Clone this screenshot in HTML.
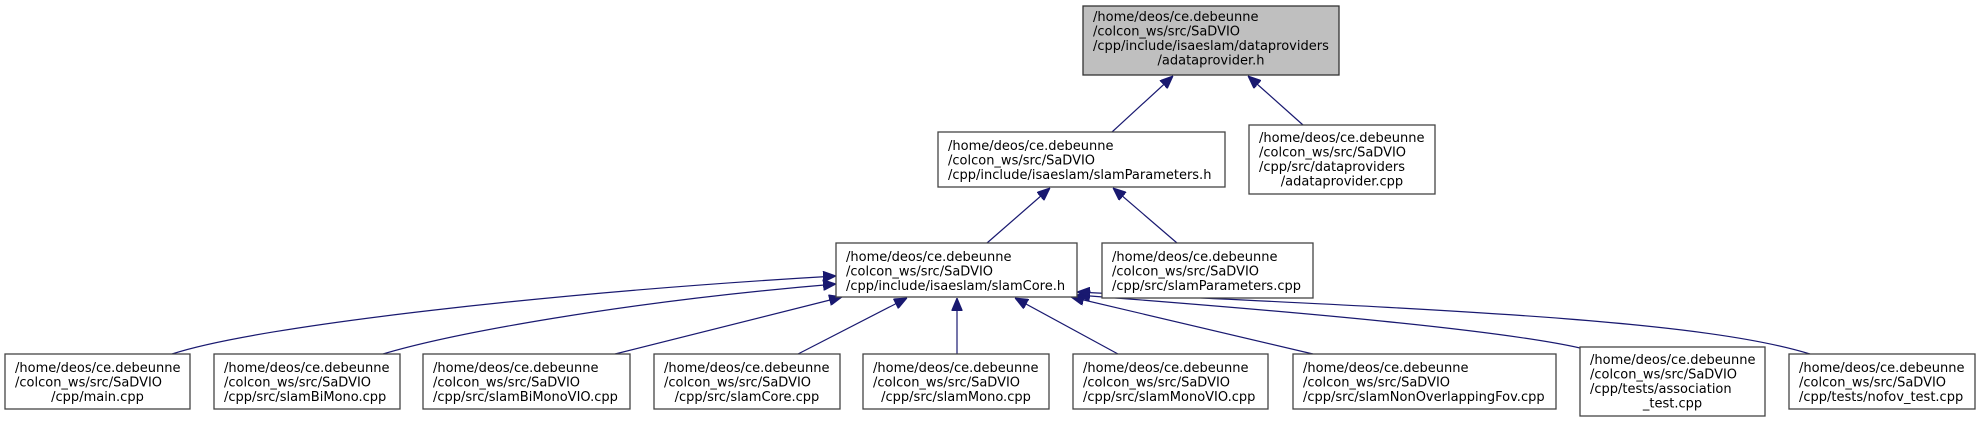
<!DOCTYPE html>
<html><head><meta charset="utf-8"><style>
html,body{margin:0;padding:0;background:#fff;}
svg{display:block;}
text{font-family:"DejaVu Sans","Liberation Sans",sans-serif;font-size:13px;fill:#000;}
.b{fill:#fff;stroke:#444;stroke-width:1.3;}
.g{fill:#bfbfbf;stroke:#333;stroke-width:1.3;}
.e{fill:none;stroke:#191970;stroke-width:1.2;}
</style></head><body>
<svg width="1980" height="423" viewBox="0 0 1980 423" xmlns="http://www.w3.org/2000/svg">
<defs><marker id="a" markerUnits="userSpaceOnUse" markerWidth="13" markerHeight="11" refX="13" refY="5.5" orient="auto"><path d="M0,0 L13,5.5 L0,11 z" fill="#191970" stroke="#191970"/></marker></defs>

<path class="e" marker-end="url(#a)" d="M1112,132 L1173,76"/>
<path class="e" marker-end="url(#a)" d="M1303,125 L1248,76"/>
<path class="e" marker-end="url(#a)" d="M987,243 L1050,188"/>
<path class="e" marker-end="url(#a)" d="M1177,243 L1113,188"/>
<path class="e" marker-end="url(#a)" d="M172,354 C260,325 560,292 836,276"/>
<path class="e" marker-end="url(#a)" d="M383,354 C450,334 620,302 836,284"/>
<path class="e" marker-end="url(#a)" d="M615,354 L842,297"/>
<path class="e" marker-end="url(#a)" d="M798,354 L907,298"/>
<path class="e" marker-end="url(#a)" d="M957,354 L957,298"/>
<path class="e" marker-end="url(#a)" d="M1118,354 L1015,298"/>
<path class="e" marker-end="url(#a)" d="M1313,354 L1071,297"/>
<path class="e" marker-end="url(#a)" d="M1580,348 C1500,330 1300,312 1077,295"/>
<path class="e" marker-end="url(#a)" d="M1810,354 C1700,320 1450,310 1077,292"/>

<rect class="g" x="1083" y="6" width="256" height="69"/>
<text x="1093" y="21">/home/deos/ce.debeunne</text>
<text x="1093" y="35.5">/colcon_ws/src/SaDVIO</text>
<text x="1093" y="50">/cpp/include/isaeslam/dataproviders</text>
<text x="1211" y="64.5" text-anchor="middle">/adataprovider.h</text>

<rect class="b" x="938" y="132" width="287" height="55"/>
<text x="948" y="150">/home/deos/ce.debeunne</text>
<text x="948" y="164.5">/colcon_ws/src/SaDVIO</text>
<text x="948" y="179">/cpp/include/isaeslam/slamParameters.h</text>

<rect class="b" x="1249" y="125" width="186" height="69"/>
<text x="1259" y="142">/home/deos/ce.debeunne</text>
<text x="1259" y="156.5">/colcon_ws/src/SaDVIO</text>
<text x="1259" y="171">/cpp/src/dataproviders</text>
<text x="1342" y="185.5" text-anchor="middle">/adataprovider.cpp</text>

<rect class="b" x="836" y="243" width="241" height="54"/>
<text x="846" y="261">/home/deos/ce.debeunne</text>
<text x="846" y="275.5">/colcon_ws/src/SaDVIO</text>
<text x="846" y="290">/cpp/include/isaeslam/slamCore.h</text>

<rect class="b" x="1102" y="243" width="211" height="55"/>
<text x="1112" y="261">/home/deos/ce.debeunne</text>
<text x="1112" y="275.5">/colcon_ws/src/SaDVIO</text>
<text x="1112" y="290">/cpp/src/slamParameters.cpp</text>

<rect class="b" x="5" y="354" width="185" height="55"/>
<text x="15" y="372">/home/deos/ce.debeunne</text>
<text x="15" y="386.5">/colcon_ws/src/SaDVIO</text>
<text x="97.5" y="401" text-anchor="middle">/cpp/main.cpp</text>

<rect class="b" x="214" y="354" width="186" height="55"/>
<text x="224" y="372">/home/deos/ce.debeunne</text>
<text x="224" y="386.5">/colcon_ws/src/SaDVIO</text>
<text x="224" y="401">/cpp/src/slamBiMono.cpp</text>

<rect class="b" x="423" y="354" width="207" height="55"/>
<text x="433" y="372">/home/deos/ce.debeunne</text>
<text x="433" y="386.5">/colcon_ws/src/SaDVIO</text>
<text x="433" y="401">/cpp/src/slamBiMonoVIO.cpp</text>

<rect class="b" x="654" y="354" width="186" height="55"/>
<text x="664" y="372">/home/deos/ce.debeunne</text>
<text x="664" y="386.5">/colcon_ws/src/SaDVIO</text>
<text x="747" y="401" text-anchor="middle">/cpp/src/slamCore.cpp</text>

<rect class="b" x="863" y="354" width="186" height="55"/>
<text x="873" y="372">/home/deos/ce.debeunne</text>
<text x="873" y="386.5">/colcon_ws/src/SaDVIO</text>
<text x="956" y="401" text-anchor="middle">/cpp/src/slamMono.cpp</text>

<rect class="b" x="1073" y="354" width="195" height="55"/>
<text x="1083" y="372">/home/deos/ce.debeunne</text>
<text x="1083" y="386.5">/colcon_ws/src/SaDVIO</text>
<text x="1083" y="401">/cpp/src/slamMonoVIO.cpp</text>

<rect class="b" x="1293" y="354" width="263" height="55"/>
<text x="1303" y="372">/home/deos/ce.debeunne</text>
<text x="1303" y="386.5">/colcon_ws/src/SaDVIO</text>
<text x="1303" y="401">/cpp/src/slamNonOverlappingFov.cpp</text>

<rect class="b" x="1580" y="347" width="185" height="69"/>
<text x="1590" y="364">/home/deos/ce.debeunne</text>
<text x="1590" y="378.5">/colcon_ws/src/SaDVIO</text>
<text x="1590" y="393">/cpp/tests/association</text>
<text x="1672.5" y="407.5" text-anchor="middle">_test.cpp</text>

<rect class="b" x="1789" y="354" width="186" height="55"/>
<text x="1799" y="372">/home/deos/ce.debeunne</text>
<text x="1799" y="386.5">/colcon_ws/src/SaDVIO</text>
<text x="1799" y="401">/cpp/tests/nofov_test.cpp</text>
</svg>
</body></html>
